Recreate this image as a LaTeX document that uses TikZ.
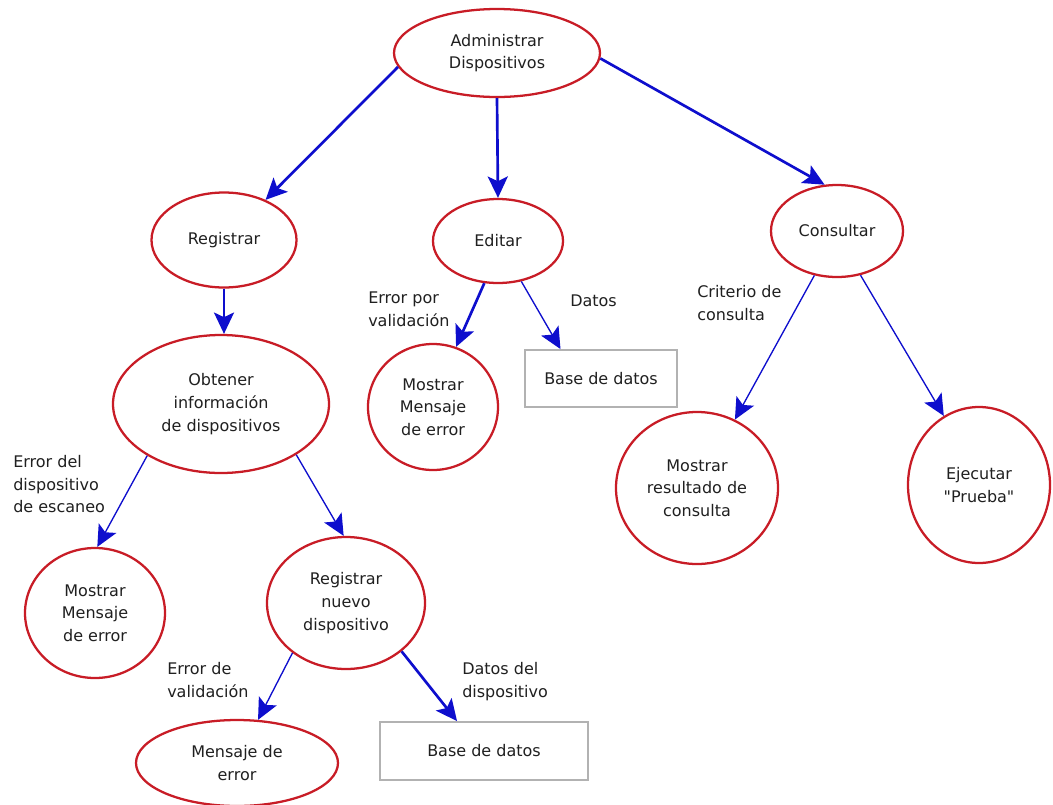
\documentclass[tikz,border=0pt]{standalone}
\usepackage{fontspec}
\setmainfont{DejaVu Sans}[Ligatures=TeXOff]
\usetikzlibrary{shapes.geometric,arrows.meta}
\definecolor{ovalred}{RGB}{200,28,38}
\definecolor{flowblue}{RGB}{14,14,205}
\definecolor{boxgray}{RGB}{178,178,178}
\definecolor{inkgray}{RGB}{32,32,32}
\newdimen\unitpx \unitpx=0.75pt
\begin{document}
\begin{tikzpicture}[x=0.75pt,y=-0.75pt,
  every node/.style={font=\fontsize{12}{17}\selectfont, text=inkgray},
  oval/.style={ellipse, draw=ovalred, line width=1.7pt, inner sep=0pt, align=center},
  store/.style={rectangle, draw=boxgray, line width=1.4pt, inner sep=0pt},
  note/.style={anchor=north west, inner sep=0pt, align=left},
  flow/.style={draw=flowblue, -{Stealth[length=16pt,width=15pt,inset=3.5pt]}},
  heavy/.style={flow, line width=2pt},
  light/.style={flow, line width=1pt},
]
\useasboundingbox[fill=white] (0,0) rectangle (1053,804);

% processes
\node[oval, minimum width=206\unitpx, minimum height=88\unitpx] (admin) at (497,53) {Administrar\\Dispositivos};
\node[oval, minimum width=145\unitpx, minimum height=95\unitpx] (reg) at (224,240) {Registrar};
\node[oval, minimum width=130\unitpx, minimum height=84\unitpx] (edit) at (498,241) {Editar};
\node[oval, minimum width=132\unitpx, minimum height=92\unitpx] (cons) at (837,231) {Consultar};
\node[oval, minimum width=216\unitpx, minimum height=138\unitpx] (obt) at (221,404) {Obtener\\información\\de dispositivos};
\node[oval, minimum width=130\unitpx, minimum height=126\unitpx] (errmid) at (433,407) {Mostrar\\Mensaje\\de error};
\node[oval, minimum width=162\unitpx, minimum height=152\unitpx] (res) at (697,488) {Mostrar\\resultado de\\consulta};
\node[oval, minimum width=142\unitpx, minimum height=156\unitpx] (ejec) at (979,485) {Ejecutar\\"Prueba"};
\node[oval, minimum width=140\unitpx, minimum height=130\unitpx] (errleft) at (95,613) {Mostrar\\Mensaje\\de error};
\node[oval, minimum width=158\unitpx, minimum height=132\unitpx] (regnew) at (346,603) {Registrar\\nuevo\\dispositivo};
\node[oval, minimum width=202\unitpx, minimum height=86\unitpx] (msg) at (237,763) {Mensaje de\\error};

% data stores
\node[store, minimum width=152\unitpx, minimum height=57\unitpx] (dbtop) at (601,378.5) {Base de datos};
\node[store, minimum width=208\unitpx, minimum height=58\unitpx] (dbbot) at (484,751) {Base de datos};

% flows
\draw[heavy] (admin.188) -- (reg.44);
\draw[heavy] (admin.south) -- (edit.north);
\draw[heavy] (admin.357) -- (cons.105);
\draw[heavy] (reg.south) -- (reg.south |- obt.north);
\draw[heavy] (edit.252) -- (errmid.69);
\draw[light] (edit.300) -- (dbtop.144);
\draw[light] (cons.243) -- (res.61);
\draw[light] (cons.298) -- (ejec.117);
\draw[light] (obt.215) -- (errleft.88);
\draw[light] (obt.326) -- (regnew.92);
\draw[light] (regnew.223) -- (msg.64);
\draw[heavy] (regnew.319) -- (dbbot.132);

% flow labels
\node[note] (lblval) at (368,292) {Error por\\validación};
\node[note] (lbldat) at (570,295) {Datos};
\node[note] (lblcrit) at (697,285) {Criterio de\\consulta};
\node[note] (lblscan) at (13,455) {Error del\\dispositivo\\de escaneo};
\node[note] (lblvalb) at (167,662) {Error de\\validación};
\node[note] (lbldev) at (462,662) {Datos del\\dispositivo};
\end{tikzpicture}
\end{document}
